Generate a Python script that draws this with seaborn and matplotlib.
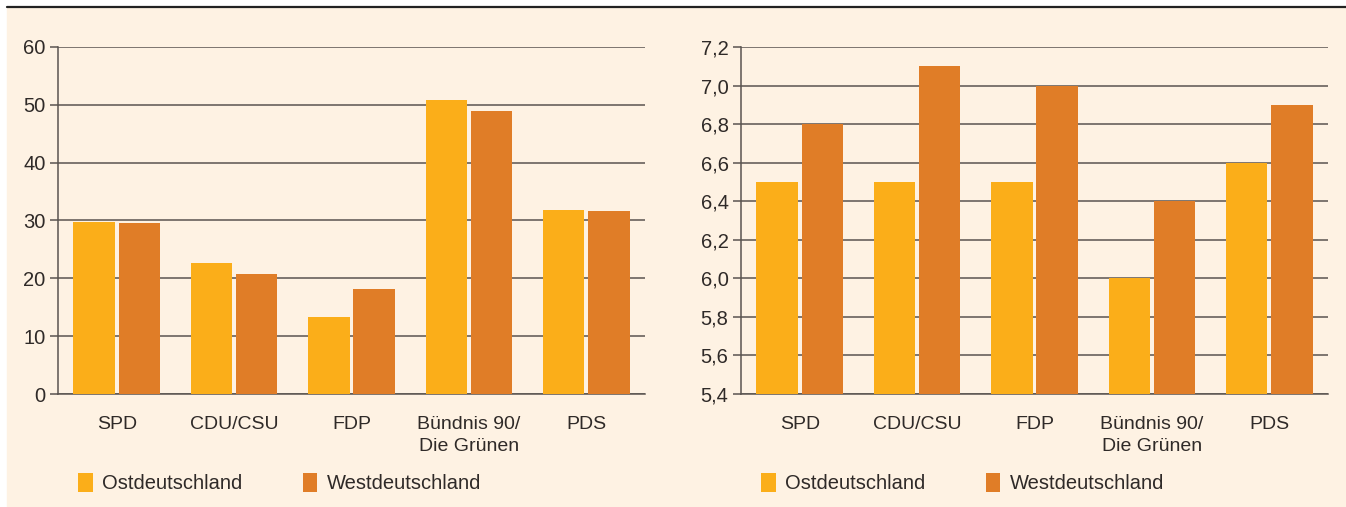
import matplotlib
matplotlib.use("Agg")
import matplotlib.pyplot as plt
from matplotlib.patches import Rectangle
from matplotlib.lines import Line2D
import pandas as pd
import seaborn as sns

# Daten
parteien = ["SPD", "CDU/CSU", "FDP", "Bündnis 90/\nDie Grünen", "PDS"]
regionen = ["Ostdeutschland", "Westdeutschland"]
links_ost = [29.8, 22.7, 13.4, 50.9, 31.9]
links_west = [29.5, 20.7, 18.1, 49.0, 31.6]
rechts_ost = [6.5, 6.5, 6.5, 6.0, 6.6]
rechts_west = [6.8, 7.1, 7.0, 6.4, 6.9]
links_ticks = [0, 10, 20, 30, 40, 50, 60]
rechts_ticks = [5.4, 5.6, 5.8, 6.0, 6.2, 6.4, 6.6, 6.8, 7.0, 7.2]
rechts_ticklabels = ["5,4", "5,6", "5,8", "6,0", "6,2", "6,4", "6,6", "6,8", "7,0", "7,2"]

farben = {"Ostdeutschland": "#FBAE19", "Westdeutschland": "#E07D27"}
bg = "#FEF2E3"
linie = "#5a5450"
text = "#2f2a28"

sns.set_theme(style="white")
plt.rcParams["font.family"] = ["Liberation Sans", "DejaVu Sans"]
plt.rcParams["font.size"] = 14


def make_df(ost, west):
    return pd.DataFrame({
        "Partei": parteien * 2,
        "Region": [regionen[0]] * 5 + [regionen[1]] * 5,
        "Wert": ost + west,
    })


W, H = 1346, 507
fig = plt.figure(figsize=(W / 100, H / 100), dpi=100)
fig.patch.set_facecolor("white")
fig.add_artist(Rectangle((7 / W, 0), 1 - 7 / W, (H - 8) / H,
                         transform=fig.transFigure, color=bg, zorder=-10))
fig.add_artist(Line2D([7 / W, 1], [(H - 7) / H, (H - 7) / H],
                      transform=fig.transFigure, color="#222222", lw=1.6))

ax1 = fig.add_axes([58 / W, (H - 394) / H, 587 / W, 347 / H])
ax2 = fig.add_axes([741 / W, (H - 394) / H, 587 / W, 347 / H])

setups = [
    (ax1, make_df(links_ost, links_west), links_ticks, [str(t) for t in links_ticks], (0, 60)),
    (ax2, make_df(rechts_ost, rechts_west), rechts_ticks, rechts_ticklabels, (5.4, 7.2)),
]

for ax, df, ticks, labels, ylim in setups:
    ax.set_facecolor("none")
    sns.barplot(data=df, x="Partei", y="Wert", hue="Region", palette=farben,
                width=0.77, gap=0.08, linewidth=0, saturation=1, ax=ax, zorder=3)
    ax.set_ylim(*ylim)
    ax.set_xlim(-0.5, 4.5)
    ax.set_yticks(ticks)
    ax.set_yticklabels(labels)
    ax.yaxis.grid(True, color=linie, lw=1.1, zorder=0)
    ax.set_axisbelow(True)
    ax.set_xlabel("")
    ax.set_ylabel("")
    for s in ["top", "right"]:
        ax.spines[s].set_visible(False)
    ax.spines["left"].set_color(linie)
    ax.spines["bottom"].set_color(linie)
    ax.spines["left"].set_linewidth(1.1)
    ax.spines["bottom"].set_linewidth(1.1)
    ax.tick_params(axis="y", length=6, width=1.1, color=linie, pad=3,
                   labelsize=14.5, labelcolor=text, left=True)
    ax.tick_params(axis="x", length=0, pad=16, labelsize=14, labelcolor=text)
    for lab in ax.get_xticklabels():
        lab.set_linespacing(1.4)
    sns.move_legend(ax, "upper left", bbox_to_anchor=(0.004, -0.175), ncol=2,
                    frameon=False, title=None, fontsize=14.5,
                    handlelength=0.7, handleheight=1.1, handletextpad=0.45,
                    columnspacing=3.05, labelcolor=text)

fig.savefig("out.png", dpi=100, facecolor=fig.get_facecolor())
